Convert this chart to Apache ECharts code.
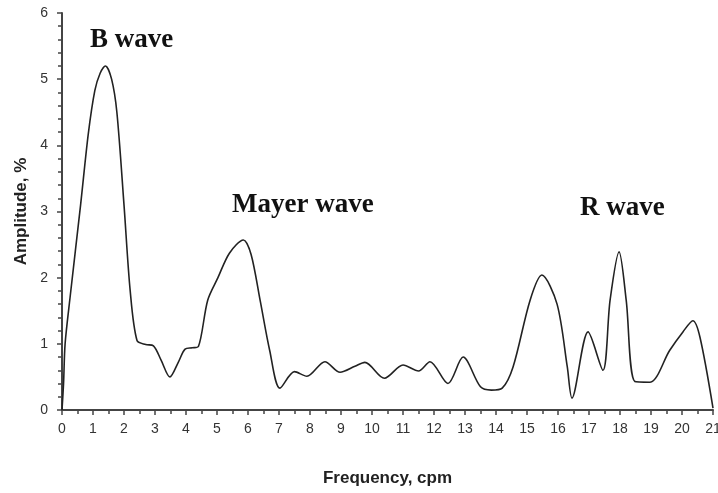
<!DOCTYPE html>
<html lang="en">
<head>
<meta charset="UTF-8" />
<title>Amplitude spectrum</title>
<script src="https://cdn.jsdelivr.net/npm/echarts@6/dist/echarts.min.js"></script>
<style>
  html, body { margin: 0; padding: 0; background: #fff; }
  #main { width: 718px; height: 493px; }
</style>
</head>
<body>
<div id="main"></div>
<script>
// frequency (cpm) and amplitude (%)
var freq = [0, 0.05, 0.1, 0.26, 0.6, 0.85, 1.06, 1.23, 1.4, 1.6, 1.77, 2.0, 2.2, 2.42, 2.7, 2.95,
  3.2, 3.48, 3.75, 3.97, 4.2, 4.4, 4.7, 5.03, 5.4, 5.85, 6.1, 6.39, 6.7, 7.03,
  7.5, 7.9, 8.48, 8.97, 9.45, 9.77, 10.4, 11.0, 11.5, 11.87, 12.45, 12.94, 13.5, 13.85,
  14.2, 14.55, 15.1, 15.48, 15.97, 16.3, 16.45, 16.97, 17.45, 17.68, 17.97, 18.2, 18.48,
  18.97, 19.6, 20.03, 20.35, 20.58, 21];
var amp = [0, 0.4, 1.0, 1.7, 3.1, 4.18, 4.83, 5.09, 5.2, 5.0, 4.5, 3.1, 1.8, 1.05, 0.99, 0.97,
  0.75, 0.5, 0.72, 0.92, 0.94, 0.96, 1.66, 2.0, 2.37, 2.57, 2.35, 1.66, 0.9, 0.33,
  0.58, 0.51, 0.73, 0.57, 0.66, 0.72, 0.48, 0.68, 0.59, 0.73, 0.4, 0.8, 0.35, 0.3,
  0.33, 0.65, 1.66, 2.04, 1.6, 0.65, 0.18, 1.18, 0.6, 1.66, 2.39, 1.66, 0.43,
  0.42, 0.9, 1.18, 1.35, 1.1, 0.03];

var waveLabels = ['B wave', 'Mayer wave', 'R wave'];

var points = [];
for (var i = 0; i < freq.length; i++) {
  points.push([freq[i], amp[i]]);
}

var axisFont = '"Liberation Sans", sans-serif';
var waveFont = 'bold 27px "Liberation Serif", serif';

var chart = echarts.init(document.getElementById('main'));
chart.setOption({
  animation: false,
  grid: { left: 62, right: 5, top: 13, bottom: 83, outerBoundsMode: 'none' },
  xAxis: {
    type: 'value',
    min: 0, max: 21, interval: 1,
    name: 'Frequency, cpm',
    nameLocation: 'middle',
    nameGap: 60,
    nameTextStyle: { fontFamily: axisFont, fontWeight: 'bold', fontSize: 17, color: '#222' },
    axisLine: { show: true, lineStyle: { color: '#444', width: 2 } },
    axisTick: { show: true, length: 5, lineStyle: { color: '#444', width: 1.5 } },
    minorTick: { show: true, splitNumber: 2, length: 4, lineStyle: { color: '#444', width: 1.5 } },
    axisLabel: { fontFamily: axisFont, fontSize: 14, color: '#333', margin: 12 },
    splitLine: { show: false }
  },
  yAxis: {
    type: 'value',
    min: 0, max: 6, interval: 1,
    name: 'Amplitude, %',
    nameLocation: 'middle',
    nameGap: 32,
    nameRotate: 90,
    nameTextStyle: { fontFamily: axisFont, fontWeight: 'bold', fontSize: 17, color: '#222' },
    axisLine: { show: true, lineStyle: { color: '#444', width: 2 } },
    axisTick: { show: true, length: 5, lineStyle: { color: '#444', width: 1.5 } },
    minorTick: { show: true, splitNumber: 5, length: 4, lineStyle: { color: '#444', width: 1.5 } },
    axisLabel: { fontFamily: axisFont, fontSize: 14, color: '#333', margin: 14 },
    splitLine: { show: false }
  },
  series: [{
    type: 'line',
    data: points,
    smooth: 0.3,
    symbol: 'none',
    lineStyle: { color: '#222', width: 1.6 }
  }],
  graphic: [
    { type: 'text', x: 90, y: 27,
      style: { text: waveLabels[0], font: waveFont, fill: '#111' } },
    { type: 'text', x: 232, y: 192,
      style: { text: waveLabels[1], font: waveFont, fill: '#111' } },
    { type: 'text', x: 580, y: 195,
      style: { text: waveLabels[2], font: waveFont, fill: '#111' } }
  ]
});
</script>
</body>
</html>
